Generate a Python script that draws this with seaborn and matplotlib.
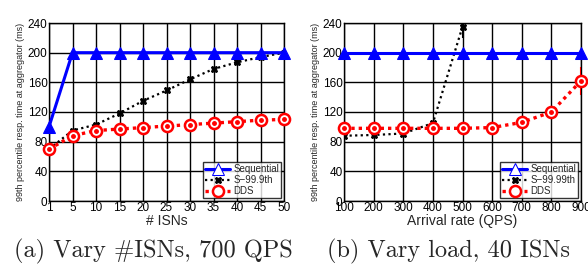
import numpy as np
import pandas as pd
import matplotlib
matplotlib.use("Agg")
import matplotlib.pyplot as plt
import seaborn as sns

# left panel: vary #ISNs at 700 QPS
isns = [1, 5, 10, 15, 20, 25, 30, 35, 40, 45, 50]
seq_isn = [100, 200, 200, 200, 200, 200, 200, 200, 200, 200, 200]
s999_isn = [70, 95, 103, 118, 135, 149, 164, 178, 187, 194, 200]
s999_isn_err = [2, 2, 2, 2, 2, 2, 2, 2, 3, 3, 2]
dds_isn = [70, 88, 95, 97, 99, 101, 103, 105, 107, 109, 110]
dds_isn_err = [2, 2, 2, 2, 2, 2, 2, 2, 2, 2, 2]

# right panel: vary load at 40 ISNs
qps = [100, 200, 300, 400, 500, 600, 700, 800, 900]
seq_qps = [200, 200, 200, 200, 200, 200, 200, 200, 200]
s9999_qps = [88, 89, 91, 105, 235]
s9999_qps_err = [2, 2, 2, 3, 15]
dds_qps = [98, 98, 98, 98, 98, 99, 106, 120, 162]
dds_qps_err = [1, 1, 1, 1, 1, 1, 2, 3, 19]

sns.set_style("ticks")
plt.rcParams['font.family'] = ['Liberation Sans', 'DejaVu Sans']

fig = plt.figure(figsize=(5.88, 2.67), dpi=100)
axL = fig.add_axes([49/588, 1 - 201/267, 235/588, 178/267])
axR = fig.add_axes([344/588, 1 - 201/267, 237/588, 178/267])

def draw(ax, x, seq, slow, slow_err, slow_lbl, dds, dds_err):
    pos = np.arange(len(x))
    df = pd.DataFrame({"x": pos, "seq": seq})
    sns.lineplot(data=df, x="x", y="seq", ax=ax, color="#0000ff", lw=2.2,
                 marker="^", markersize=8, markerfacecolor="#0000ff",
                 markeredgecolor="#0000ff", label="Sequential", clip_on=False, zorder=5)
    sp = pos[:len(slow)]
    ax.errorbar(sp, slow, yerr=slow_err, fmt="none", ecolor="black", lw=1.5,
                capsize=0, zorder=4)
    sns.lineplot(x=sp, y=slow, ax=ax, color="black", lw=1.6, linestyle=(0, (1, 1.5)),
                 marker="X", markersize=5, markerfacecolor="black",
                 markeredgecolor="black", label=slow_lbl, zorder=4)
    ax.errorbar(pos, dds, yerr=dds_err, fmt="none", ecolor="red", lw=1.5,
                capsize=0, zorder=6)
    sns.lineplot(x=pos, y=dds, ax=ax, color="red", lw=2.4, linestyle=(0, (1, 1.2)),
                 marker="o", markersize=8, markerfacecolor="white",
                 markeredgecolor="red", markeredgewidth=1.8,
                 label="DDS", clip_on=False, zorder=6)
    ax.plot(pos, dds, ls="none", marker="o", markersize=2.5, color="red", zorder=7,
            clip_on=False)
    ax.set_xlim(0, len(x) - 1)
    ax.set_ylim(0, 240)
    ax.set_yticks(range(0, 241, 40))
    ax.set_xticks(pos)
    ax.set_xticklabels([str(v) for v in x])
    ax.grid(True, color="black", lw=1.0)
    ax.set_axisbelow(True)
    for s in ax.spines.values():
        s.set_color("black")
        s.set_linewidth(1.0)
    ax.tick_params(labelsize=8.5, length=0, pad=1, colors="black")
    ax.set_ylabel("99th percentile resp. time at aggregator (ms)", fontsize=6.5, labelpad=2)
    leg = ax.legend(loc="lower right", fontsize=7, frameon=True, fancybox=False,
                    edgecolor="black", borderpad=0.2, handlelength=2.6,
                    labelspacing=0.1, handletextpad=0.3, borderaxespad=0.3)
    leg.get_frame().set_linewidth(1.0)
    leg.set_zorder(10)
    for h in leg.legend_handles:
        if h.get_label() == "Sequential":
            h.set_markerfacecolor("white")

draw(axL, isns, seq_isn, s999_isn, s999_isn_err, "S\u221299.9th", dds_isn, dds_isn_err)
axL.set_xlabel("# ISNs", fontsize=10, labelpad=0)
draw(axR, qps, seq_qps, s9999_qps, s9999_qps_err, "S\u221299.99th", dds_qps, dds_qps_err)
axR.set_xlabel("Arrival rate (QPS)", fontsize=10, labelpad=0)

fig.text(0.260, 0.058, "(a) Vary #ISNs, 700 QPS", fontsize=17.5, family="cmr10",
         ha="center", va="center")
fig.text(0.762, 0.058, "(b) Vary load, 40 ISNs", fontsize=17.5, family="cmr10",
         ha="center", va="center")

fig.savefig("out.png", dpi=100)
